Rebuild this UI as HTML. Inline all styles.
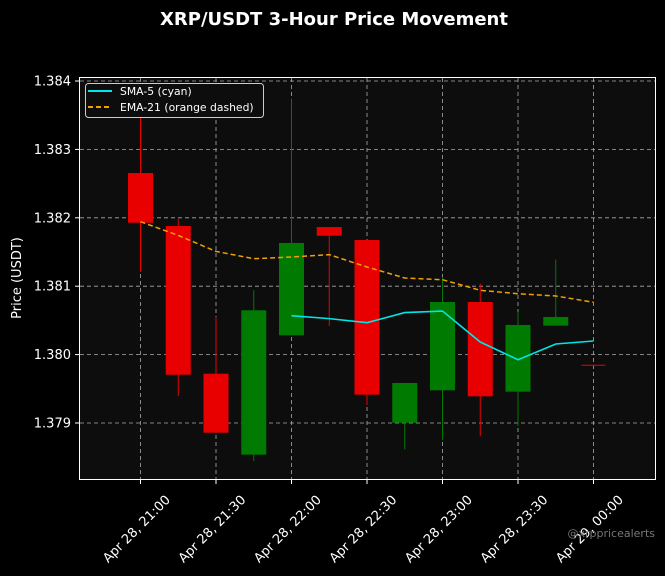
<!DOCTYPE html>
<html><head><meta charset="utf-8"><style>
body{margin:0;background:#000;}
svg{display:block;font-family:"DejaVu Sans","Liberation Sans",sans-serif;}
</style></head><body>
<svg id="chart" width="665" height="576" viewBox="0 0 665 576">
<rect width="665" height="576" fill="#000"/>
<text x="334" y="25" text-anchor="middle" fill="#fff" font-size="18" font-weight="bold">XRP/USDT 3-Hour Price Movement</text>
<rect x="79.5" y="77.5" width="576" height="402" fill="#0d0d0d"/>
<g id="grid"></g>
<g id="marks"></g>
<rect x="79.5" y="77.5" width="576" height="402" fill="none" stroke="#fff" stroke-width="1"/>
<g id="axes"></g>
<text transform="translate(21,278) rotate(-90)" text-anchor="middle" fill="#fff" font-size="13">Price (USDT)</text>
<g>
<rect x="85.5" y="83.5" width="178" height="34" rx="3" fill="#0d0d0d" stroke="#ccc" stroke-width="1"/>
<line x1="88" y1="91" x2="112" y2="91" stroke="#00e5e5" stroke-width="2"/>
<text x="120" y="95" fill="#fff" font-size="10.8">SMA-5 (cyan)</text>
<line x1="88" y1="107" x2="112" y2="107" stroke="#f0a000" stroke-width="2" stroke-dasharray="5,3"/>
<text x="120" y="111" fill="#fff" font-size="10.8">EMA-21 (orange dashed)</text>
</g>
<text x="655" y="537" text-anchor="end" fill="#777" font-size="11">@xrppricealerts</text>
</svg>
<script>
const times=["21:00","21:15","21:30","21:45","22:00","22:15","22:30","22:45","23:00","23:15","23:30","23:45","00:00"];
const opens=[1.382655,1.381880,1.379721,1.378537,1.380282,1.381865,1.381675,1.379004,1.379478,1.380769,1.379458,1.380423,1.379844];
const closes=[1.381928,1.379706,1.378858,1.380648,1.381632,1.381738,1.379414,1.379585,1.380769,1.379390,1.380433,1.380550,1.379844];
const highs=[1.383722,1.381982,1.380550,1.380940,1.383741,1.381865,1.381675,1.379585,1.381135,1.381037,1.380623,1.381388,1.379844];
const lows=[1.381208,1.379395,1.378858,1.378444,1.380282,1.380418,1.379263,1.378615,1.378756,1.378806,1.378956,1.380423,1.379844];
const sma=[null,null,null,null,1.380569,1.380526,1.380467,1.380614,1.380637,1.380184,1.379925,1.380155,1.380199];
const ema=[1.381943,1.381743,1.381509,1.381402,1.381427,1.381461,1.381281,1.381120,1.381095,1.380940,1.380890,1.380857,1.380765];
const yTicks=[1.379,1.380,1.381,1.382,1.383,1.384];
const xTickIdx=[0,2,4,6,8,10,12];
const xTickLabels=["Apr 28, 21:00","Apr 28, 21:30","Apr 28, 22:00","Apr 28, 22:30","Apr 28, 23:00","Apr 28, 23:30","Apr 29, 00:00"];

const NS="http://www.w3.org/2000/svg";
const xS=i=>140.5+i*37.75;
const yS=p=>81+(1.384-p)*68400;
function mk(tag,attrs,parent){const e=document.createElementNS(NS,tag);for(const k in attrs)e.setAttribute(k,attrs[k]);parent.appendChild(e);return e;}
const grid=document.getElementById('grid'),marks=document.getElementById('marks'),axes=document.getElementById('axes');
yTicks.forEach(t=>{const y=yS(t);
 const g=mk('line',{x1:80,x2:655,y1:y,y2:y,stroke:'#aaa','stroke-dasharray':'4,3','stroke-width':0.8},grid);
 
 
 const tk=mk('line',{x1:75,x2:79.5,y1:y,y2:y,stroke:'#fff'},axes);
 
 
 const tx=mk('text',{x:71,y:y+4.5,'text-anchor':'end',fill:'#fff','font-size':13},axes);
 tx.textContent=t.toFixed(3);
 
 
});
xTickIdx.forEach((idx,k)=>{const x=xS(idx);
 const g=mk('line',{x1:x,x2:x,y1:78,y2:479,stroke:'#aaa','stroke-dasharray':'4,3','stroke-width':0.8},grid);
 
 
 const tk=mk('line',{x1:x,x2:x,y1:479.5,y2:484,stroke:'#fff'},axes);
 
 
 const tx=mk('text',{transform:`translate(${x-1},${532}) rotate(-45)`,'text-anchor':'middle',fill:'#fff','font-size':13},axes);
 tx.textContent=xTickLabels[k];
 
 
});
times.forEach((t,i)=>{const x=xS(i);const up=closes[i]>=opens[i]&&closes[i]!==opens[i];
 const col=up?'#007a00':'#e80000';
 const w=mk('line',{x1:x,x2:x,y1:yS(highs[i]),y2:yS(lows[i]),stroke:col,'stroke-width':1},marks);
 
 
 const top=yS(Math.max(opens[i],closes[i])),bot=yS(Math.min(opens[i],closes[i]));
 if(bot-top<0.5){const l=mk('line',{x1:x-12,x2:x+12,y1:top,y2:top,stroke:col,'stroke-width':1},marks);
  
  }
 else{const r=mk('rect',{x:x-12.5,y:top,width:25,height:bot-top,fill:col},marks);
  
  }
});
const sp=sma.map((v,i)=>v==null?null:xS(i)+','+yS(v)).filter(Boolean).join(' ');
const s=mk('polyline',{points:sp,fill:'none',stroke:'#00e5e5','stroke-width':1.6},marks);


const ep=ema.map((v,i)=>xS(i)+','+yS(v)).join(' ');
const e=mk('polyline',{points:ep,fill:'none',stroke:'#f0a000','stroke-width':1.5,'stroke-dasharray':'5,3'},marks);


</script>
</body></html>
